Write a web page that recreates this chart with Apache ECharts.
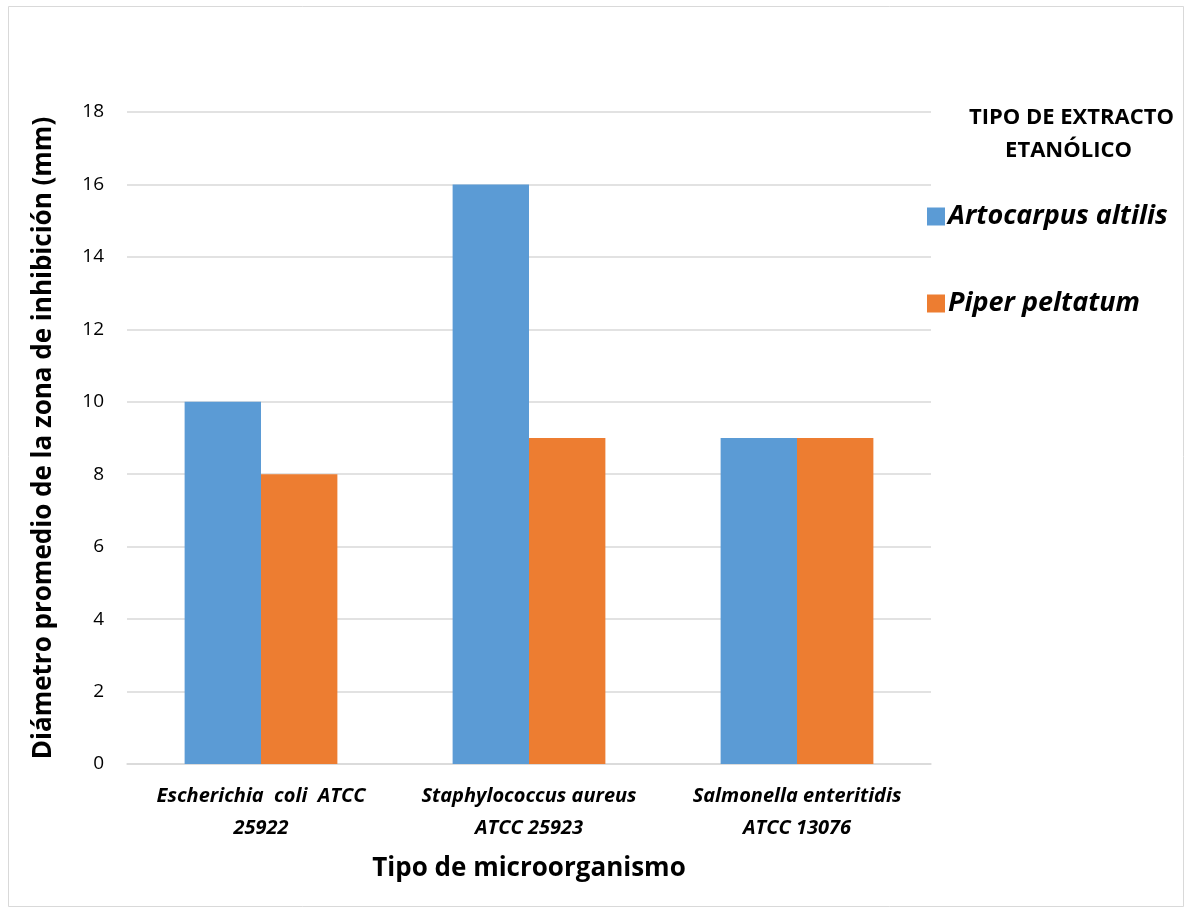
<!DOCTYPE html>
<html><head><meta charset="utf-8">
<script src="https://cdn.jsdelivr.net/npm/echarts@6/dist/echarts.min.js"></script>
<style>html,body{margin:0;padding:0;background:#fff}#c{width:1192px;height:912px}</style>
</head><body><div id="c"></div>
<script>
const categories = ['Escherichia  coli  ATCC\n25922', 'Staphylococcus aureus\nATCC 25923', 'Salmonella enteritidis\nATCC 13076'];
const seriesNames = ['Artocarpus altilis', 'Piper peltatum'];
const artocarpus = [10, 16, 9];
const piper = [8, 9, 9];
const colors = ['#5B9BD5', '#ED7D31'];
const FONT = 'Open Sans';
const chart = echarts.init(document.getElementById('c'));
chart.setOption({
  animation: false,
  backgroundColor: '#fff',
  graphic: [
    {type:'rect', shape:{x:8.5,y:6.5,width:1175,height:900}, style:{fill:'none',stroke:'#D9D9D9',lineWidth:1}, silent:true},
    {type:'text', right:18, top:107, style:{text:'TIPO DE EXTRACTO', font:'bold 22px "Open Sans"', fill:'#000', textAlign:'right'}},
    {type:'text', right:60, top:140, style:{text:'ETANÓLICO', font:'bold 22px "Open Sans"', fill:'#000', textAlign:'right'}}
  ],
  legend: {
    orient:'vertical', left:922, top:198, itemWidth:18, itemHeight:18, itemGap:60,
    icon:'rect',
    textStyle:{fontFamily:FONT, fontSize:27, fontWeight:'bold', fontStyle:'italic', color:'#000', padding:[0,0,0,-2]},
    data: seriesNames
  },
  grid: {left:127, right:261, top:112, bottom:148, containLabel:false},
  xAxis: {
    type:'category', data:categories,
    axisLine:{lineStyle:{color:'#D9D9D9', width:1.5}},
    axisTick:{show:false},
    axisLabel:{interval:0, hideOverlap:false, fontFamily:FONT, fontSize:20, fontWeight:'bold', fontStyle:'italic', color:'#000', lineHeight:32, margin:16},
    name:'Tipo de microorganismo', nameLocation:'middle', nameGap:92,
    nameTextStyle:{fontFamily:FONT, fontSize:26, fontWeight:'bold', color:'#000'}
  },
  yAxis: {
    type:'value', min:0, max:18, interval:2,
    axisLine:{show:false}, axisTick:{show:false},
    splitLine:{lineStyle:{color:'#D9D9D9', width:1.5}},
    axisLabel:{fontFamily:FONT, fontSize:19, color:'#000', margin:23},
    name:'Diámetro promedio de la zona de inhibición (mm)', nameLocation:'middle', nameGap:70,
    nameTextStyle:{fontFamily:FONT, fontSize:26, fontWeight:'bold', color:'#000'}
  },
  series: [
    {name:seriesNames[0], type:'bar', data:artocarpus, itemStyle:{color:colors[0]}, barGap:'0%', barCategoryGap:'43%'},
    {name:seriesNames[1], type:'bar', data:piper, itemStyle:{color:colors[1]}, barGap:'0%', barCategoryGap:'43%'}
  ]
});
</script></body></html>
